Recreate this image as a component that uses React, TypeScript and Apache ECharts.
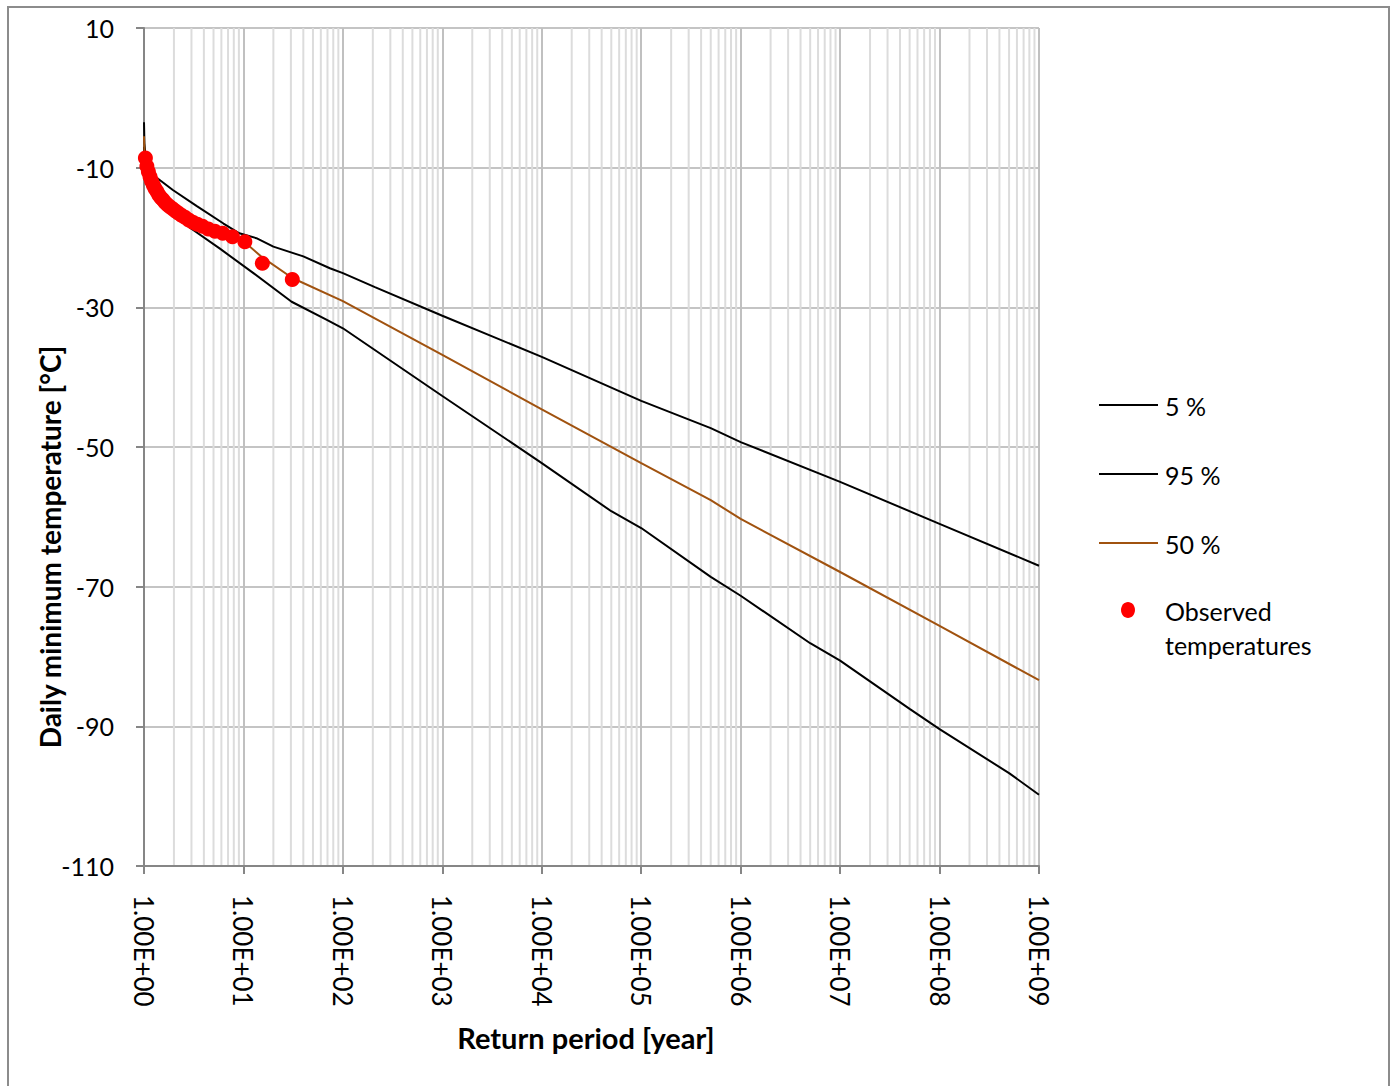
import React, { useEffect, useRef } from "react";
import * as echarts from "echarts";

// Return periods (years) and temperatures (°C)
const upperT = [1, 1.01, 1.05, 1.17, 1.45, 1.95, 3.4, 6.3, 9.1, 13.5, 20, 40, 74, 100, 210, 1000, 1e4, 1e5, 5e5, 1e6, 1e7, 1e8, 1e9];
const upperV = [-3.5, -6.5, -9.5, -10.8, -11.8, -13.2, -15.5, -18.0, -19.4, -20.1, -21.3, -22.7, -24.4, -25.1, -27.1, -31.2, -37.1, -43.4, -47.3, -49.3, -55.0, -61.0, -67.0];

const lowerT = [1, 1.02, 1.1, 1.45, 2.05, 2.9, 5.8, 12.6, 30.5, 69, 100, 1000, 1e4, 5e4, 1e5, 5e5, 1e6, 5e6, 1e7, 5e7, 1e8, 5e8, 1e9];
const lowerV = [-7, -10, -12.8, -15.0, -17.0, -18.6, -21.6, -25.1, -29.2, -31.8, -33.0, -42.7, -52.3, -59.2, -61.6, -68.6, -71.3, -78.1, -80.6, -87.5, -90.4, -96.7, -99.8];

const medianT = [1, 1.01, 1.03, 1.1, 1.3, 1.6, 2.2, 3.5, 6, 10, 15, 31, 100, 1000, 1e4, 1e5, 5e5, 1e6, 1e7, 1e8, 1e9];
const medianV = [-5.5, -7.5, -9, -11, -13, -14.8, -16.3, -17.8, -19.3, -20.5, -22.7, -25.8, -29.1, -36.8, -44.6, -52.3, -57.6, -60.3, -67.9, -75.6, -83.4];

const observedT = [31, 15.5, 10.33, 7.75, 6.2, 5.17, 4.43, 3.875, 3.44, 3.1, 2.82, 2.58, 2.38, 2.21, 2.07, 1.94, 1.82, 1.72, 1.63, 1.55, 1.48, 1.41, 1.35, 1.29, 1.24, 1.19, 1.15, 1.107, 1.069, 1.033];
const observedV = [-26.0, -23.7, -20.6, -19.9, -19.4, -19.1, -18.8, -18.4, -18.1, -17.8, -17.5, -17.1, -16.8, -16.5, -16.2, -15.9, -15.6, -15.3, -15.0, -14.6, -14.3, -13.9, -13.4, -13.0, -12.5, -11.9, -11.3, -10.6, -9.8, -8.6];

const yTicks = { min: -110, max: 10, step: 20 };
const xRange = { min: 1, max: 1e9 };
const minorMultipliers = [2, 3, 4, 5, 6, 7, 8, 9];
const decades = [1, 10, 100, 1000, 1e4, 1e5, 1e6, 1e7, 1e8];

const seriesNames = ["5 %", "95 %", "50 %", "Observed temperatures"];

const FONT = "Lato, 'Open Sans', 'DejaVu Sans', sans-serif";
const BROWN = "#A0520F";

function zip(a: number[], b: number[]) {
  return a.map((v, i) => [v, b[i]]);
}

export default function App() {
  const ref = useRef<HTMLDivElement>(null);
  useEffect(() => {
    if (!ref.current) return;
    const chart = echarts.init(ref.current, null, { renderer: "svg" });
    const minorLines: number[][] = [];
    decades.forEach((d) => minorMultipliers.forEach((m) => minorLines.push([d * m, 0])));

    const legendY = [405, 474, 543];
    const legendColors = ["#000", "#000", BROWN];
    const legendGraphics: any[] = [];
    legendY.forEach((y, i) => {
      legendGraphics.push({
        type: "line",
        shape: { x1: 1099, y1: y, x2: 1158, y2: y },
        style: { stroke: legendColors[i], lineWidth: 2 },
      });
      legendGraphics.push({
        type: "text",
        x: 1165,
        y: y + 1,
        style: { text: seriesNames[i], font: `25px ${FONT}`, fill: "#000", textVerticalAlign: "middle" },
      });
    });
    legendGraphics.push({ type: "ellipse", shape: { cx: 1128, cy: 610, rx: 7, ry: 8 }, style: { fill: "#FF0000" } });
    legendGraphics.push({
      type: "text",
      x: 1165,
      y: 611,
      style: { text: "Observed", font: `25px ${FONT}`, fill: "#000", textVerticalAlign: "middle" },
    });
    legendGraphics.push({
      type: "text",
      x: 1165,
      y: 645,
      style: { text: "temperatures", font: `25px ${FONT}`, fill: "#000", textVerticalAlign: "middle" },
    });

    chart.setOption({
      animation: false,
      backgroundColor: "#fff",
      grid: { left: 144, top: 28, right: 356, bottom: 220, containLabel: false },
      xAxis: {
        type: "log",
        logBase: 10,
        min: xRange.min,
        max: xRange.max,
        axisLine: { show: true, onZero: false, lineStyle: { color: "#868686", width: 2 } },
        axisTick: { show: true, length: 8, lineStyle: { color: "#868686", width: 2 } },
        splitLine: { show: true, lineStyle: { color: "#c0c0c0", width: 2 } },
        minorTick: { show: false },
        axisLabel: {
          rotate: -90,
          margin: 29,
          color: "#000",
          fontSize: 26,
          fontFamily: FONT,
          formatter: (v: number) => {
            const e = Math.round(Math.log10(v));
            return "1.00E+" + String(e).padStart(2, "0");
          },
        },
      },
      yAxis: {
        type: "value",
        min: yTicks.min,
        max: yTicks.max,
        interval: yTicks.step,
        axisLine: { show: true, onZero: false, lineStyle: { color: "#868686", width: 2 } },
        axisTick: { show: true, length: 8, lineStyle: { color: "#868686", width: 2 } },
        splitLine: { show: true, lineStyle: { color: "#c4c4c4", width: 2 } },
        axisLabel: { margin: 30, color: "#000", fontSize: 25, fontFamily: FONT },
      },
      graphic: [
        {
          type: "rect",
          shape: { x: 8, y: 7, width: 1381, height: 1100 },
          style: { fill: "none", stroke: "#8c8c8c", lineWidth: 2 },
          silent: true,
        },
        {
          type: "text",
          x: 586,
          y: 1037,
          style: {
            text: "Return period [year]",
            font: `bold 29px ${FONT}`,
            fill: "#000",
            textAlign: "center",
            textVerticalAlign: "middle",
          },
        },
        {
          type: "text",
          x: 50,
          y: 547,
          rotation: Math.PI / 2,
          style: {
            text: "Daily minimum temperature [°C]",
            font: `bold 28px ${FONT}`,
            fill: "#000",
            textAlign: "center",
            textVerticalAlign: "middle",
          },
        },
        ...legendGraphics,
      ],
      series: [
        {
          type: "custom",
          name: "minorGrid",
          silent: true,
          z: 0,
          data: minorLines,
          renderItem: (params: any, api: any) => {
            const x = api.value(0);
            const p1 = api.coord([x, yTicks.max]);
            const p2 = api.coord([x, yTicks.min]);
            return {
              type: "line",
              shape: { x1: p1[0], y1: p1[1], x2: p2[0], y2: p2[1] },
              style: { stroke: "#dcdcdc", lineWidth: 2 },
            };
          },
        },
        {
          type: "line",
          name: seriesNames[0],
          data: zip(upperT, upperV),
          showSymbol: false,
          symbol: "none",
          lineStyle: { color: "#000", width: 2 },
          z: 3,
        },
        {
          type: "line",
          name: seriesNames[1],
          data: zip(lowerT, lowerV),
          showSymbol: false,
          symbol: "none",
          lineStyle: { color: "#000", width: 2 },
          z: 3,
        },
        {
          type: "line",
          name: seriesNames[2],
          data: zip(medianT, medianV),
          showSymbol: false,
          symbol: "none",
          lineStyle: { color: BROWN, width: 2 },
          z: 4,
        },
        {
          type: "scatter",
          name: seriesNames[3],
          data: zip(observedT, observedV),
          symbol: "circle",
          symbolSize: 15,
          itemStyle: { color: "#FF0000", opacity: 1 },
          z: 5,
        },
      ],
    });
    return () => chart.dispose();
  }, []);
  return (
    <div
      ref={ref}
      style={{ position: "absolute", left: 0, top: 0, width: 1395, height: 1086 }}
    />
  );
}
